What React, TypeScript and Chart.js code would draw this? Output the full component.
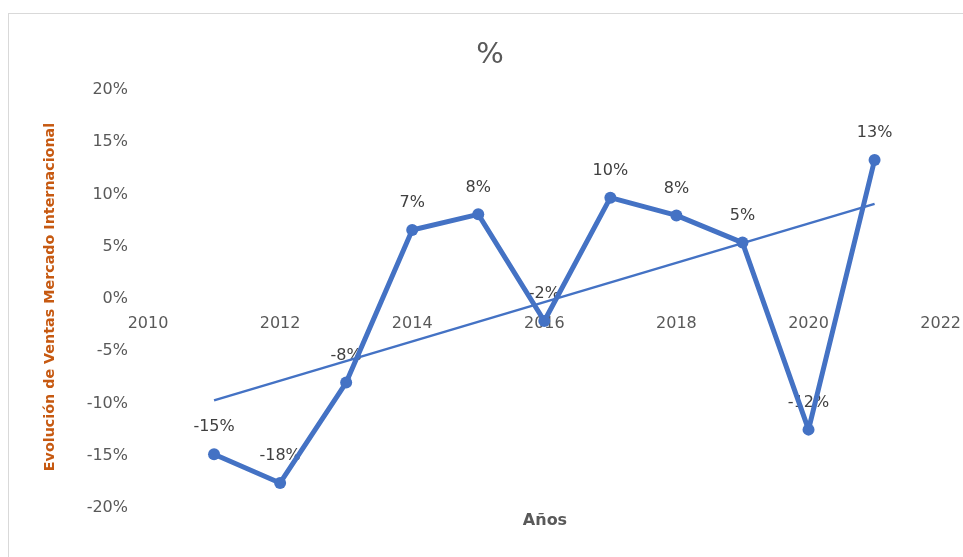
import React, { useEffect, useRef } from "react";
import { Chart, registerables } from "chart.js";

Chart.register(...registerables);

const years = [2011, 2012, 2013, 2014, 2015, 2016, 2017, 2018, 2019, 2020, 2021];
const ventasPct = [-14.85, -17.6, -8.0, 6.6, 8.1, -2.1, 9.7, 8.0, 5.4, -12.5, 13.3];
const trendYears = [2011, 2021];
const trendPct = [-9.7, 9.1];
const titleText = "%";
const yTitle = "Evolución de Ventas Mercado Internacional";
const xTitle = "Años";

const BLUE = "#4472C4";
const GRAY = "#595959";

const textPlugin = {
  id: "customText",
  beforeDatasetsDraw(chart: any) {
    const ctx = chart.ctx;
    const meta = chart.getDatasetMeta(0);
    ctx.save();
    ctx.font = "16px 'DejaVu Sans'";
    ctx.fillStyle = "#404040";
    ctx.textAlign = "center";
    ctx.textBaseline = "middle";
    meta.data.forEach((pt: any, i: number) => {
      const v = ventasPct[i];
      ctx.fillText(Math.round(v) + "%", pt.x, pt.y - 27);
    });
    ctx.restore();
  },
  afterDraw(chart: any) {
    const ctx = chart.ctx;
    ctx.save();
    ctx.fillStyle = GRAY;
    ctx.textAlign = "center";
    ctx.textBaseline = "middle";
    ctx.font = "29px 'DejaVu Sans'";
    ctx.fillText(titleText, 490, 55);
    ctx.font = "bold 16px 'DejaVu Sans'";
    ctx.fillStyle = "#595959";
    ctx.fillText(xTitle, 545, 521);
    ctx.translate(50, 297);
    ctx.rotate(-Math.PI / 2);
    ctx.font = "bold 14px 'DejaVu Sans'";
    const w = ctx.measureText(yTitle).width;
    const size = Math.max(10, Math.min(18, (14 * 349) / w));
    ctx.font = "bold " + size.toFixed(1) + "px 'DejaVu Sans'";
    ctx.fillStyle = "#C65911";
    ctx.fillText(yTitle, 0, 0);
    ctx.restore();
  },
};

export default function App() {
  const ref = useRef<HTMLCanvasElement>(null);
  useEffect(() => {
    if (!ref.current) return;
    const chart = new Chart(ref.current, {
      type: "line",
      data: {
        datasets: [
          {
            label: "Ventas",
            data: years.map((y, i) => ({ x: y, y: ventasPct[i] })),
            borderColor: BLUE,
            backgroundColor: BLUE,
            borderWidth: 5,
            borderJoinStyle: "round",
            borderCapStyle: "round",
            pointRadius: 6,
            pointBackgroundColor: BLUE,
            pointBorderWidth: 0,
            tension: 0,
          },
          {
            label: "Tendencia",
            data: trendYears.map((y, i) => ({ x: y, y: trendPct[i] })),
            borderColor: BLUE,
            borderWidth: 2.5,
            pointRadius: 0,
            tension: 0,
          },
        ],
      },
      options: {
        responsive: false,
        animation: false,
        layout: { padding: { left: 0, right: 9, top: 90, bottom: 49 } },
        plugins: {
          legend: { display: false },
          tooltip: { enabled: false },
          title: { display: false },
        },
        scales: {
          x: {
            type: "linear",
            position: { y: 0 } as any,
            min: 2010,
            max: 2022,
            grid: { display: false, drawTicks: false },
            border: { display: false },
            ticks: {
              stepSize: 2,
              padding: 15,
              color: GRAY,
              font: { family: "DejaVu Sans", size: 16 },
              callback: (v: any) => String(v),
            },
          },
          y: {
            type: "linear",
            min: -20,
            max: 20,
            grid: { display: false, drawTicks: false },
            border: { display: false },
            afterFit: (scale: any) => {
              scale.width = 148;
            },
            ticks: {
              stepSize: 5,
              padding: 20,
              color: GRAY,
              font: { family: "DejaVu Sans", size: 16 },
              callback: (v: any) => v + "%",
            },
          },
        },
      },
      plugins: [textPlugin],
    });
    return () => chart.destroy();
  }, []);
  return (
    <div
      style={{
        position: "fixed",
        left: 0,
        top: 0,
        width: 963,
        height: 557,
        overflow: "hidden",
        background: "#fff",
      }}
    >
      <div
        style={{
          position: "absolute",
          left: 8,
          top: 13,
          width: 1000,
          height: 600,
          border: "1px solid #D9D9D9",
        }}
      />
      <canvas
        ref={ref}
        width={976}
        height={557}
        style={{ position: "absolute", left: 0, top: 0 }}
      />
    </div>
  );
}
